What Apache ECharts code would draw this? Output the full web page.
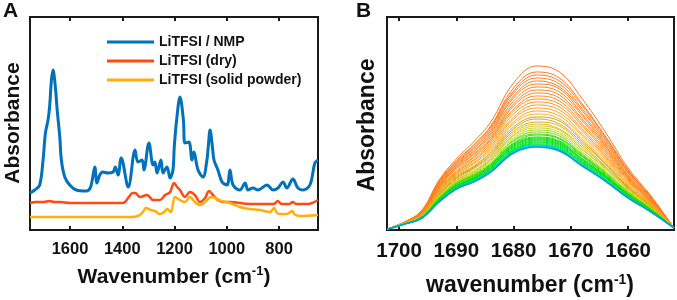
<!DOCTYPE html>
<html><head><meta charset="utf-8">
<script src="https://cdn.jsdelivr.net/npm/echarts@6/dist/echarts.min.js"></script>
<style>html,body{margin:0;padding:0;background:#fff}#c{width:677px;height:300px}</style>
</head><body><div id="c"></div>
<script>
// ---------- Panel A data (wavenumber cm-1, absorbance a.u.) ----------
const seriesNamesA = ['LiTFSI / NMP', 'LiTFSI (dry)', 'LiTFSI (solid powder)'];
const wnNmp = [1753,1735,1716,1703,1694,1684,1678,1671,1665,1656,1649,1639,1633,1620,1601,1576,1538,1521,1505,1497,1486,1474,1455,1435,1427,1416,1404,1377,1351,1340,1324,1317,1298,1282,1275,1267,1252,1244,1229,1217,1206,1201,1192,1179,1166,1160,1145,1133,1126,1110,1091,1076,1071,1064,1055,1049,1034,1018,999,988,976,950,930,919,900,881,846,823,804,785,770,747,728,709,682,663,651];
const absNmp = [0.37,0.40,0.45,0.70,0.97,1.10,1.23,1.50,1.60,1.43,1.20,0.93,0.70,0.53,0.45,0.40,0.39,0.43,0.63,0.47,0.55,0.58,0.57,0.58,0.63,0.55,0.72,0.43,0.80,0.68,0.70,0.60,0.87,0.65,0.68,0.57,0.70,0.57,0.63,0.52,0.60,0.83,1.10,1.33,1.10,0.87,0.88,0.70,0.78,0.60,0.53,0.70,0.83,1.00,0.83,0.70,0.60,0.48,0.45,0.60,0.45,0.40,0.47,0.40,0.42,0.40,0.45,0.40,0.42,0.48,0.42,0.51,0.42,0.40,0.45,0.67,0.70];
const wnDry = [1753,1730,1700,1680,1660,1638,1600,1523,1447,1400,1389,1375,1360,1351,1332,1305,1282,1256,1236,1217,1202,1190,1179,1160,1141,1122,1103,1083,1068,1053,1034,1010,988,911,820,805,790,760,748,735,690,651];
const absDry = [0.27,0.28,0.28,0.29,0.28,0.28,0.27,0.27,0.27,0.27,0.28,0.33,0.37,0.37,0.33,0.35,0.30,0.30,0.35,0.38,0.47,0.43,0.40,0.33,0.38,0.35,0.28,0.32,0.39,0.35,0.30,0.28,0.28,0.26,0.26,0.29,0.26,0.26,0.28,0.26,0.26,0.30];
const wnPowder = [1753,1600,1450,1370,1340,1321,1310,1290,1275,1256,1240,1228,1214,1198,1179,1160,1141,1122,1103,1083,1060,1045,1020,988,950,911,873,835,819,808,797,770,750,740,720,651];
const absPowder = [0.13,0.13,0.13,0.13,0.14,0.18,0.22,0.20,0.19,0.16,0.18,0.21,0.18,0.33,0.30,0.28,0.33,0.28,0.25,0.28,0.33,0.32,0.29,0.27,0.23,0.21,0.20,0.18,0.22,0.17,0.16,0.16,0.19,0.155,0.14,0.15];
const ticksA = [1600, 1400, 1200, 1000, 800];

// ---------- Panel B data (wavenumber cm-1, absorbance x1e-3) ----------
const wnB = [1702,1699,1696,1693,1690,1687,1684,1680,1676,1672,1668,1664,1660,1656,1652];
const curvesB = [
[1,8,20,50,71,88,108,147,164,158,131,98,62,34,2],
[1,8,19,49,69,85,104,142,158,152,126,94,60,33,2],
[1,8,18,48,68,84,103,139,155,149,124,93,59,32,2],
[1,8,18,47,67,82,101,137,152,146,121,91,58,32,2],
[1,8,18,46,66,81,99,134,149,143,119,89,57,31,2],
[1,8,17,45,65,79,97,132,146,141,116,87,55,30,2],
[1,8,17,44,64,78,95,129,143,138,114,85,54,30,2],
[1,7,17,43,63,76,93,126,140,135,111,84,53,29,2],
[1,7,17,43,62,75,91,124,137,132,109,82,52,29,2],
[1,7,16,42,61,73,90,121,134,129,106,80,51,28,2],
[1,7,16,41,59,72,88,119,131,126,104,78,50,28,2],
[1,7,16,40,58,70,86,116,128,123,101,76,49,27,2],
[1,7,16,39,57,69,84,113,125,120,99,74,48,26,2],
[1,7,15,38,56,67,82,111,122,117,96,73,46,26,2],
[1,7,15,38,55,66,80,108,119,114,94,71,45,25,2],
[1,7,15,37,54,64,78,106,116,111,91,69,44,25,2],
[1,7,15,36,53,63,77,103,113,109,89,67,43,24,2],
[1,7,14,36,52,62,75,101,111,106,87,66,42,24,2],
[1,7,14,35,51,61,74,99,108,104,85,64,42,23,2],
[1,7,14,35,50,59,72,97,106,101,83,63,41,23,2],
[1,7,14,34,49,58,71,95,104,100,81,62,40,22,2],
[1,7,14,33,48,57,70,94,102,98,80,61,39,22,2],
[1,6,13,33,48,56,69,92,100,96,78,59,38,21,2],
[1,6,13,32,47,55,67,90,98,94,76,58,38,21,2],
[1,6,13,32,46,55,66,89,96,92,75,57,37,21,2],
[1,6,13,31,46,54,65,87,95,91,74,56,36,20,2],
[1,6,13,31,45,53,65,86,93,89,73,55,36,20,2],
[1,6,13,31,44,52,64,85,92,88,71,54,35,20,2],
[1,6,13,30,44,52,63,84,91,87,71,54,35,20,2],
[1,6,13,30,44,51,62,83,90,86,70,53,35,19,2],
[1,6,13,30,43,51,62,82,89,85,69,53,34,19,2],
[1,6,12,29,43,50,61,81,88,84,68,52,34,19,2],
[1,6,12,29,42,50,60,80,87,83,67,51,33,19,2],
[1,6,12,29,42,50,60,80,86,82,67,51,33,19,2],
[1,6,12,29,42,49,60,79,85,81,66,50,33,18,2],
[1,6,12,28,42,49,59,79,85,81,65,50,33,18,2],
[1,6,12,28,41,49,59,78,84,80,65,50,32,18,2],
[1,6,12,28,41,48,58,78,84,80,64,49,32,18,2],
[1,6,12,28,41,48,58,77,83,79,64,49,32,18,2]
];
const ticksB = [1700, 1690, 1680, 1670, 1660];

// ---------- styling ----------
const FONT = '"Liberation Sans", Arial, Helvetica, sans-serif';
const INK = '#1a1a1a';
const colorsA = ['#0072BD', '#FF4A12', '#FFAE0A'];
const widthsA = [3, 2.5, 2.5];

function pairs(xs, ys) { return xs.map((x, i) => [x, ys[i]]); }

function hueFor(i) {
  const stops = [[0,24],[8,28],[14,36],[18,48],[21,62],[23,88],[25,112],[28,122],[32,135],[35,150],[36,168],[37,188],[38,198]];
  for (let k = 1; k < stops.length; k++) {
    if (i <= stops[k][0]) {
      const a = stops[k-1], b = stops[k];
      return a[1] + (b[1]-a[1]) * (i - a[0]) / (b[0]-a[0]);
    }
  }
  return stops[stops.length-1][1];
}
function colorFor(i) {
  const h = hueFor(i);
  const s = (h > 40 && h < 100) ? 80 : 100;
  const l = h < 40 ? 55 : (h < 100 ? 46 : 44);
  return 'hsl(' + h.toFixed(1) + ',' + s + '%,' + l + '%)';
}

function xAxisBase(gridIndex, min, max, ticks, pos, fontSize, showLabel) {
  return {
    type: 'value', gridIndex: gridIndex, position: pos, inverse: true, min: min, max: max,
    axisLine: { show: false },
    axisTick: { show: true, inside: true, length: 4, customValues: ticks, lineStyle: { color: INK, width: 2 } },
    axisLabel: { show: showLabel, customValues: ticks, formatter: v => String(v), margin: 11, fontSize: fontSize, fontWeight: 'bold', color: '#111', fontFamily: FONT },
    splitLine: { show: false }
  };
}
function yAxisBase(gridIndex, max) {
  return { type: 'value', gridIndex: gridIndex, min: 0, max: max, axisLine: { show: false }, axisTick: { show: false }, axisLabel: { show: false }, splitLine: { show: false } };
}

const dataA = [pairs(wnNmp, absNmp), pairs(wnDry, absDry), pairs(wnPowder, absPowder)];
const series = [];
seriesNamesA.forEach((name, k) => {
  series.push({
    name: name, type: 'line', xAxisIndex: 0, yAxisIndex: 0, data: dataA[k],
    showSymbol: false, symbol: 'none', smooth: 0.35,
    lineStyle: { color: colorsA[k], width: widthsA[k] }, itemStyle: { color: colorsA[k] }
  });
});
curvesB.forEach((ys, i) => {
  series.push({
    name: 'B' + i, type: 'line', xAxisIndex: 2, yAxisIndex: 1, data: pairs(wnB, ys),
    showSymbol: false, symbol: 'none', smooth: 0.4,
    lineStyle: { color: colorFor(i), width: i === curvesB.length - 1 ? 1.6 : 1 }
  });
});

const chart = echarts.init(document.getElementById('c'), null, { renderer: 'canvas' });
chart.setOption({
  animation: false,
  backgroundColor: '#fff',
  grid: [
    { left: 30, top: 17, width: 288, height: 213, show: true, borderColor: INK, borderWidth: 2, backgroundColor: 'transparent' },
    { left: 387, top: 17, width: 287, height: 213, show: true, borderColor: INK, borderWidth: 2, backgroundColor: 'transparent' }
  ],
  xAxis: [
    xAxisBase(0, 651, 1753, ticksA, 'bottom', 16.5, true),
    xAxisBase(0, 651, 1753, ticksA, 'top', 16.5, false),
    xAxisBase(1, 1652, 1702.1, ticksB, 'bottom', 20.5, true),
    xAxisBase(1, 1652, 1702.1, ticksB, 'top', 20.5, false)
  ],
  yAxis: [ yAxisBase(0, 2.13), yAxisBase(1, 213) ],
  legend: {
    data: seriesNamesA, left: 107, top: 35, padding: 0, orient: 'vertical', itemGap: 5,
    itemWidth: 47, itemHeight: 3, icon: 'rect', selectedMode: false,
    textStyle: { fontSize: 14, fontWeight: 'bold', color: '#111', fontFamily: FONT }
  },
  graphic: [
    { type: 'text', left: 3, top: 1, style: { text: 'A', font: 'bold 21px ' + FONT, fill: '#111' } },
    { type: 'text', left: 356, top: 1, style: { text: 'B', font: 'bold 21px ' + FONT, fill: '#111' } },
    { type: 'text', x: 13, y: 123, rotation: Math.PI / 2,
      style: { text: 'Absorbance', font: 'bold 21px ' + FONT, fill: '#111', align: 'center', verticalAlign: 'middle' } },
    { type: 'text', x: 368, y: 125, rotation: Math.PI / 2,
      style: { text: 'Absorbance', font: 'bold 23px ' + FONT, fill: '#111', align: 'center', verticalAlign: 'middle' } },
    { type: 'text', x: 174, y: 277,
      style: { text: '{a|Wavenumber (cm}{s|-1}{a|)}', align: 'center', verticalAlign: 'middle', fill: '#111',
        rich: { a: { fontSize: 21, fontWeight: 'bold', fontFamily: FONT, fill: '#111', lineHeight: 24 },
                s: { fontSize: 13, fontWeight: 'bold', fontFamily: FONT, fill: '#111', verticalAlign: 'top', lineHeight: 24, padding: [0,0,12,0] } } } },
    { type: 'text', x: 530, y: 286,
      style: { text: '{a|wavenumber (cm}{s|-1}{a|)}', align: 'center', verticalAlign: 'middle', fill: '#111',
        rich: { a: { fontSize: 23, fontWeight: 'bold', fontFamily: FONT, fill: '#111', lineHeight: 26 },
                s: { fontSize: 14, fontWeight: 'bold', fontFamily: FONT, fill: '#111', verticalAlign: 'top', lineHeight: 26, padding: [0,0,13,0] } } } }
  ],
  series: series
});
</script>
</body></html>
